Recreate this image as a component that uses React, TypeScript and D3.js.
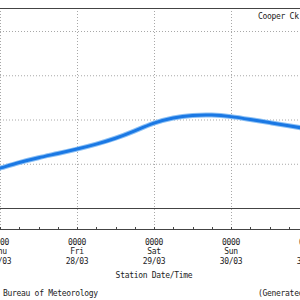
import React from "react";
import * as d3 from "d3";

const times = [
  "2014-03-26T21:00",
  "2014-03-27T00:00", "2014-03-27T06:00", "2014-03-27T12:00", "2014-03-27T18:00",
  "2014-03-28T00:00", "2014-03-28T06:00", "2014-03-28T12:00", "2014-03-28T18:00",
  "2014-03-29T00:00", "2014-03-29T06:00", "2014-03-29T12:00", "2014-03-29T18:00",
  "2014-03-30T00:00", "2014-03-30T06:00", "2014-03-30T12:00", "2014-03-30T18:00",
  "2014-03-31T00:00",
];
const levels = [
  0.84,
  0.90, 1.03, 1.14, 1.23,
  1.33, 1.44, 1.57, 1.74,
  1.93, 2.045, 2.10, 2.11,
  2.07, 2.00, 1.93, 1.86,
  1.785,
];
const dayTicks = ["2014-03-27", "2014-03-28", "2014-03-29", "2014-03-30", "2014-03-31"];
const yTicks = [0, 1, 2, 3, 4];
const stationName = "Cooper Ck";
const xTitle = "Station Date/Time";
const credit = "Bureau of Meteorology";
const generated = "(Generated";

const parse = d3.timeParse("%Y-%m-%dT%H:%M");
const parseDay = d3.timeParse("%Y-%m-%d");

export default function App() {
  const W = 300, H = 300;
  const x = d3.scaleTime()
    .domain([parseDay(dayTicks[0])!, parseDay(dayTicks[4])!])
    .range([0, 308]);
  const y = d3.scaleLinear().domain([0, 4]).range([208, 31]);
  const data = times.map((t, i) => ({ t: parse(t)!, v: levels[i] }));
  const line = d3.line<{ t: Date; v: number }>()
    .x(d => x(d.t))
    .y(d => y(d.v))
    .curve(d3.curveBasis);
  const path = line(data) || "";
  const font = "'DejaVu Sans Mono', monospace";
  const minorTicks = d3.timeHour.every(6)!.range(x.domain()[0], d3.timeHour.offset(x.domain()[1], 1));
  const fmtDay = d3.timeFormat("%a");
  const fmtDate = d3.timeFormat("%d/%m");
  const txt = { fontFamily: font, fontSize: 8, letterSpacing: -0.3, fill: "#222" } as const;

  return (
    <svg width={W} height={H} style={{ position: "absolute", left: 0, top: 0, background: "#fff" }}>
      <rect x={0} y={0} width={W} height={H} fill="#fff" />
      {yTicks.slice(1).map(v => (
        <line key={v} x1={0} x2={W} y1={y(v) + 0.5} y2={y(v) + 0.5}
          stroke="#a8a8a8" strokeWidth={1} strokeDasharray="1,2" />
      ))}
      {dayTicks.map(d => {
        const px = Math.round(x(parseDay(d)!)) + 0.5;
        return <line key={d} x1={px} x2={px} y1={8} y2={230} stroke="#a8a8a8" strokeDasharray="1,2" />;
      })}
      <line x1={0} x2={W} y1={8.5} y2={8.5} stroke="#444" strokeWidth={1} />
      <line x1={0} x2={W} y1={208.5} y2={208.5} stroke="#444" strokeWidth={1} />
      <line x1={0} x2={W} y1={229.5} y2={229.5} stroke="#444" strokeWidth={1} />
      {minorTicks.map((t, i) => {
        const px = Math.round(x(t)) + 0.5;
        return <line key={i} x1={px} x2={px} y1={227} y2={229.5} stroke="#444" />;
      })}
      <path d={path} fill="none" stroke="#8cc0f4" strokeWidth={5} strokeLinecap="round" />
      <path d={path} fill="none" stroke="#1a78e4" strokeWidth={3} strokeLinecap="round" />
      <text x={258} y={19} {...txt}>{stationName}</text>
      {dayTicks.map(d => {
        const dt = parseDay(d)!;
        const px = x(dt);
        return (
          <g key={d}>
            <text x={px} y={244.5} textAnchor="middle" {...txt}>0000</text>
            <text x={px} y={254} textAnchor="middle" {...txt}>{fmtDay(dt)}</text>
            <text x={px} y={263.5} textAnchor="middle" {...txt}>{fmtDate(dt)}</text>
          </g>
        );
      })}
      <text x={154} y={278} textAnchor="middle" {...txt}>{xTitle}</text>
      <text x={3} y={296} {...txt}>{credit}</text>
      <text x={258} y={296} {...txt}>{generated}</text>
    </svg>
  );
}
